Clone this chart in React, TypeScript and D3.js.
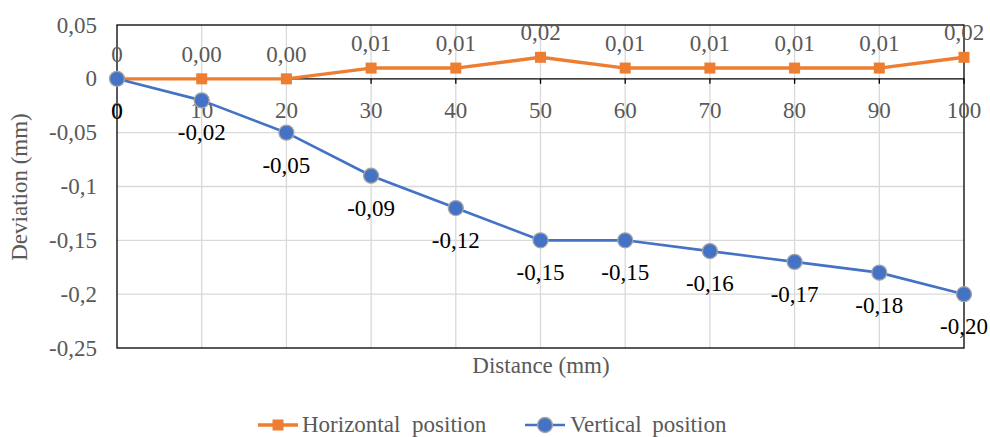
import React from "react";
import * as d3 from "d3";

const distances = [0, 10, 20, 30, 40, 50, 60, 70, 80, 90, 100];
const horizontal = [0, 0.0, 0.0, 0.01, 0.01, 0.02, 0.01, 0.01, 0.01, 0.01, 0.02];
const vertical = [0, -0.02, -0.05, -0.09, -0.12, -0.15, -0.15, -0.16, -0.17, -0.18, -0.2];
const yTicks = [0.05, 0, -0.05, -0.1, -0.15, -0.2, -0.25];
const seriesNames = ["Horizontal position", "Vertical position"];

const W = 990;
const H = 437;
const FONT = "'Liberation Serif', 'Times New Roman', serif";
const FS = 23;
const ORANGE = "#ED7D31";
const BLUE = "#4472C4";
const GRAY_TEXT = "#595959";
const GRID = "#D9D9D9";

const fmtTick = (v: number) => String(+v.toFixed(2)).replace(".", ",");
const fmtLabel = (v: number, i: number) => (i === 0 ? "0" : v.toFixed(2).replace(".", ","));

export default function App() {
  const x = d3.scaleLinear().domain([0, 100]).range([117, 964]);
  const y = d3.scaleLinear().domain([0.05, -0.25]).range([25, 348]);
  const line = d3
    .line<number>()
    .x((_, i) => x(distances[i]))
    .y((d) => y(d));
  const y0 = y(0);

  return (
    <svg width={W} height={H} style={{ position: "absolute", left: 0, top: 0, background: "#fff" }} fontFamily={FONT}>
      <rect width={W} height={H} fill="#fff" />
      {yTicks
        .filter((t) => t !== 0 && t !== 0.05 && t !== -0.25)
        .map((t) => (
          <line key={"hg" + t} x1={x(0)} x2={x(100)} y1={y(t)} y2={y(t)} stroke={GRID} strokeWidth={1.3} />
        ))}
      {distances
        .filter((d) => d !== 0 && d !== 100)
        .map((d) => (
          <line key={"vg" + d} x1={x(d)} x2={x(d)} y1={y(0.05)} y2={y(-0.25)} stroke={GRID} strokeWidth={1.3} />
        ))}
      <rect x={x(0)} y={y(0.05)} width={x(100) - x(0)} height={y(-0.25) - y(0.05)} fill="none" stroke="#000" strokeWidth={1.3} />
      <line x1={x(0)} x2={x(100)} y1={y0} y2={y0} stroke="#000" strokeWidth={1.3} />
      {distances.map((d) => (
        <line key={"xt" + d} x1={x(d)} x2={x(d)} y1={y0} y2={y0 + 5} stroke="#000" strokeWidth={1.3} />
      ))}
      {distances.map((d) => (
        <text key={"xl" + d} x={x(d)} y={y0 + 39} textAnchor="middle" fontSize={FS} fill={GRAY_TEXT}>
          {d}
        </text>
      ))}
      {yTicks.map((t) => (
        <text key={"yl" + t} x={97} y={y(t) + 7.5} textAnchor="end" fontSize={FS} fill={GRAY_TEXT}>
          {fmtTick(t)}
        </text>
      ))}
      <text x={541} y={373} textAnchor="middle" fontSize={FS} fill={GRAY_TEXT}>
        Distance (mm)
      </text>
      <text transform={`translate(27,187) rotate(-90)`} textAnchor="middle" fontSize={FS} fill={GRAY_TEXT}>
        Deviation (mm)
      </text>
      <path d={line(horizontal) || ""} fill="none" stroke={ORANGE} strokeWidth={3.4} strokeLinejoin="round" />
      {horizontal.map((v, i) => (
        <rect key={"hm" + i} x={x(distances[i]) - 5.5} y={y(v) - 5.5} width={11} height={11} fill={ORANGE} />
      ))}
      <path d={line(vertical) || ""} fill="none" stroke={BLUE} strokeWidth={2.6} strokeLinejoin="round" />
      {vertical.map((v, i) => (
        <circle key={"vm" + i} cx={x(distances[i])} cy={y(v)} r={7.5} fill={BLUE} stroke="#A5A5A5" strokeWidth={1.3} />
      ))}
      {horizontal.map((v, i) => (
        <text key={"hl" + i} x={x(distances[i])} y={y(v) - 17} textAnchor="middle" fontSize={FS} fill={GRAY_TEXT}>
          {fmtLabel(v, i)}
        </text>
      ))}
      {vertical.map((v, i) => (
        <text key={"vl" + i} x={x(distances[i])} y={y(v) + 40} textAnchor="middle" fontSize={FS} fill="#000">
          {fmtLabel(v, i)}
        </text>
      ))}
      <g>
        <line x1={258} x2={298} y1={425} y2={425} stroke={ORANGE} strokeWidth={3.4} />
        <rect x={272.5} y={419.5} width={11} height={11} fill={ORANGE} />
        <text x={302} y={432} fontSize={FS} fill={GRAY_TEXT} wordSpacing={6}>
          {seriesNames[0]}
        </text>
        <line x1={525} x2={565} y1={425} y2={425} stroke={BLUE} strokeWidth={2.6} />
        <circle cx={545} cy={425} r={7.5} fill={BLUE} stroke="#A5A5A5" strokeWidth={1.3} />
        <text x={570} y={432} fontSize={FS} fill={GRAY_TEXT} wordSpacing={5}>
          {seriesNames[1]}
        </text>
      </g>
    </svg>
  );
}
